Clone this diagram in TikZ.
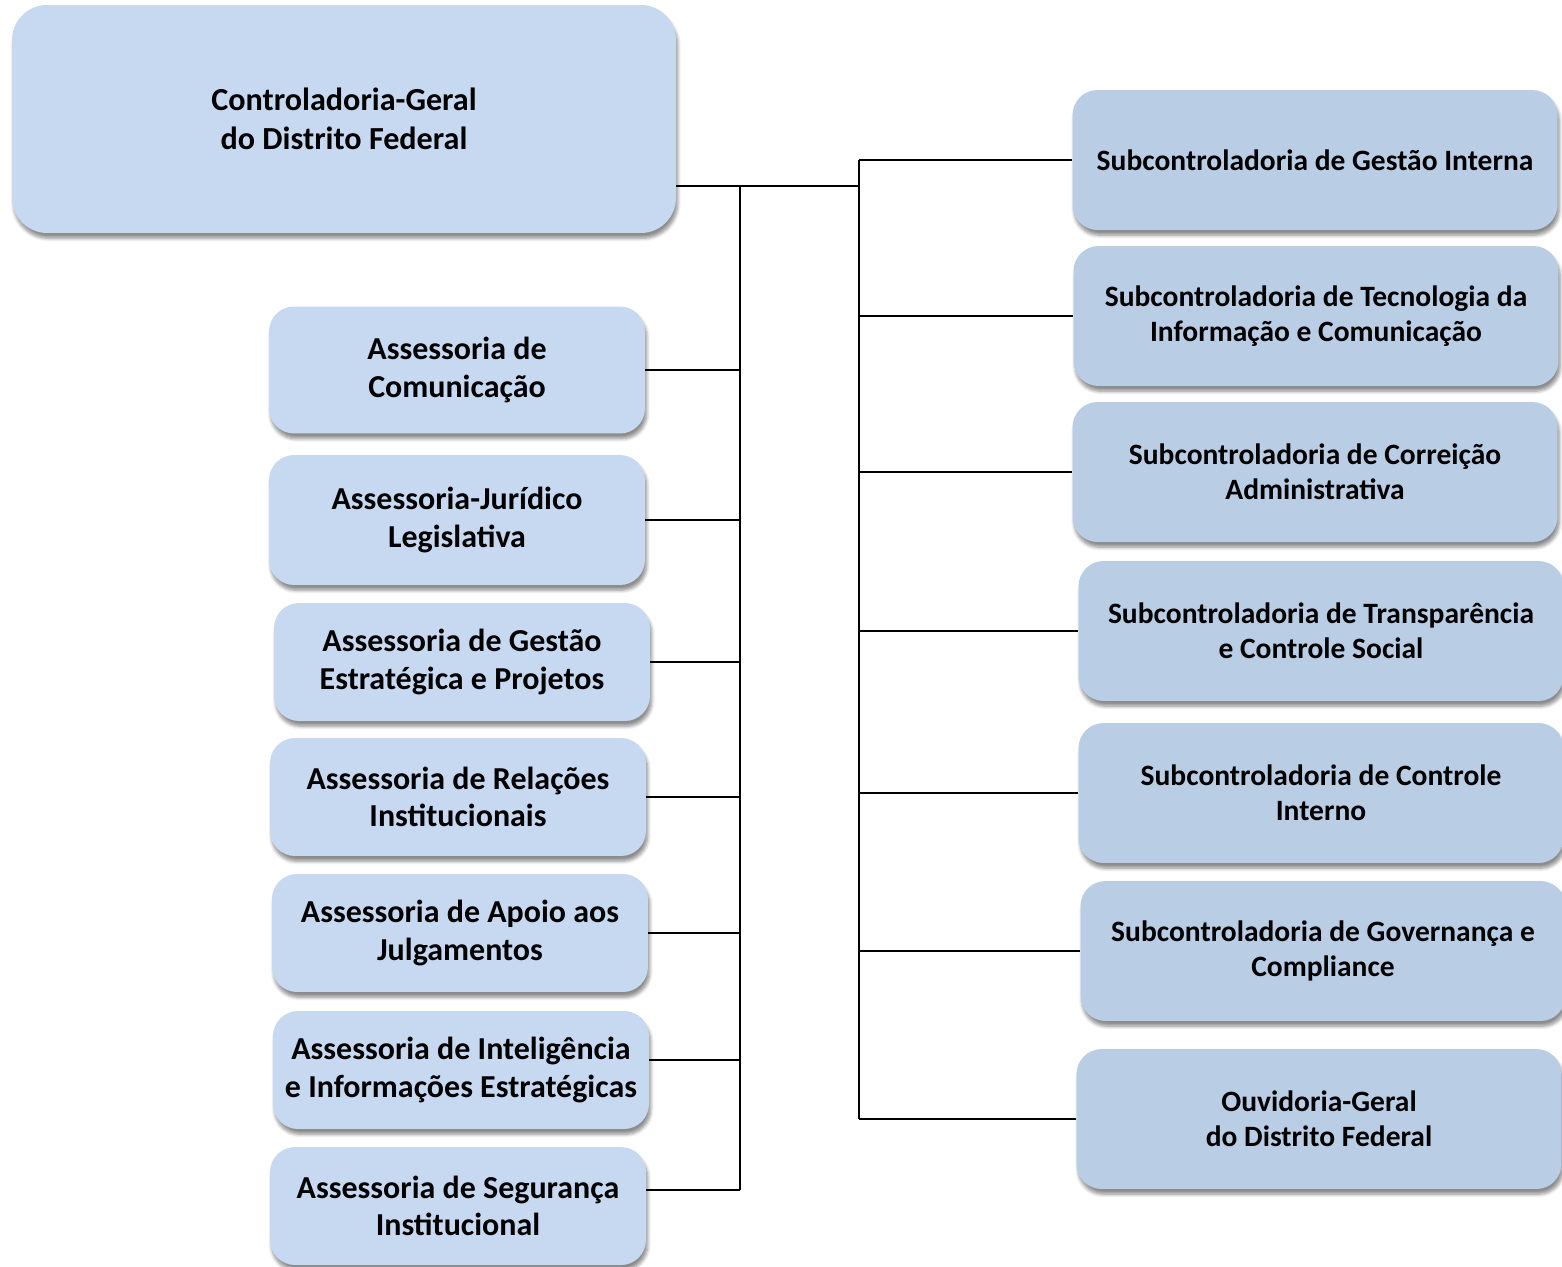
\documentclass[tikz,border=0pt]{standalone}
\usepackage{fontspec}
\setmainfont{Carlito}
\usetikzlibrary{positioning,shadows.blur}

\definecolor{boxlight}{HTML}{C6D9F1}
\definecolor{boxdark}{HTML}{B9CDE5}

\tikzset{
  unit/.style={rounded corners=0.5cm, align=center, inner sep=2pt,
    font=\bfseries\fontsize{18.2}{21.5}\selectfont,
    blur shadow={shadow xshift=1pt, shadow yshift=-3pt, shadow blur steps=6, shadow opacity=45}},
  assess/.style={unit, fill=boxlight, minimum width=7.52cm, minimum height=2.36cm},
  subc/.style={unit, fill=boxdark, minimum width=9.7cm, minimum height=2.8cm,
    font=\bfseries\fontsize{16.8}{19.8}\selectfont},
  link/.style={line width=0.9pt, black}
}

\begin{document}
\begin{tikzpicture}[x=0.02cm, y=-0.02cm]
  \useasboundingbox (0,0) rectangle (1562,1267);

  \node[unit, fill=boxlight, rounded corners=0.7cm, minimum width=13.28cm, minimum height=4.56cm,
    font=\bfseries\fontsize{18.3}{22}\selectfont] (cg) at (344,119) {Controladoria-Geral\\do Distrito Federal};

  % assessorias
  \node[assess, minimum height=2.54cm] (a1) at (457,370) {Assessoria de\\Comunica\c{c}\~ao};
  \node[assess, minimum height=2.6cm] (a2) at (457,520) {Assessoria-Jur\'idico\\Legislativa};
  \node[assess] (a3) at (462,662) {Assessoria de Gest\~ao\\Estrat\'egica e Projetos};
  \node[assess] (a4) at (458,797) {Assessoria de Rela\c{c}\~oes\\Institucionais};
  \node[assess] (a5) at (460,933) {Assessoria de Apoio aos\\Julgamentos};
  \node[assess] (a6) at (461,1070) {Assessoria de Intelig\^encia\\e Informa\c{c}\~oes Estrat\'egicas};
  \node[assess] (a7) at (458,1206) {Assessoria de Seguran\c{c}a\\Institucional};

  % subcontroladorias
  \node[subc] (s1) at (1315,160) {Subcontroladoria de Gest\~ao Interna};
  \node[subc] (s2) at (1316,316) {Subcontroladoria de Tecnologia da\\Informa\c{c}\~ao e Comunica\c{c}\~ao};
  \node[subc] (s3) at (1315,472) {Subcontroladoria de Correi\c{c}\~ao\\Administrativa};
  \node[subc] (s4) at (1321,631) {Subcontroladoria de Transpar\^encia\\e Controle Social};
  \node[subc] (s5) at (1321,793) {Subcontroladoria de Controle\\Interno};
  \node[subc] (s6) at (1323,951) {Subcontroladoria de Governan\c{c}a e\\Compliance};
  \node[subc] (s7) at (1319,1119) {Ouvidoria-Geral\\do Distrito Federal};

  % connectors
  \coordinate (hubL) at (740,186);
  \coordinate (hubR) at (859,186);
  \coordinate (endL) at (740,1190);
  \draw[link] (cg.east |- hubL) -- (hubR);
  \draw[link] (hubL) -- (endL);
  \draw[link] (hubR |- s1.west) -- (hubR |- s7.west);
  \foreach \n/\dy in {a1/0,a2/0,a3/0,a4/0,a5/0,a6/0.2,a7/0.32}
    \draw[link] ([yshift=\dy cm]\n.east) -- ([yshift=\dy cm]\n.east -| hubL);
  \foreach \n in {s1,s2,s3,s4,s5,s6,s7}
    \draw[link] (\n.west) -- (\n.west -| hubR);
\end{tikzpicture}
\end{document}
